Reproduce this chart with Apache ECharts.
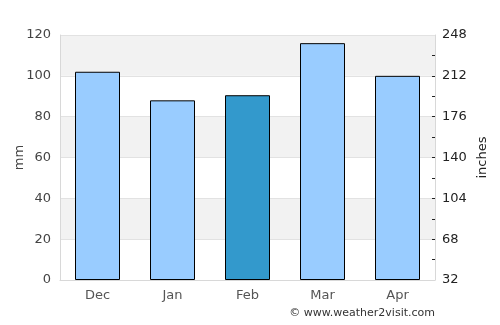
<!DOCTYPE html>
<html>
<head>
<meta charset="utf-8">
<script src="https://cdn.jsdelivr.net/npm/echarts@6/dist/echarts.min.js"></script>
<style>
  html, body { margin: 0; padding: 0; background: #fff; }
  #chart { width: 500px; height: 325px; }
</style>
</head>
<body>
<div id="chart"></div>
<script>
const months = ['Dec', 'Jan', 'Feb', 'Mar', 'Apr'];
const rainMm = [102, 88, 90.5, 116, 100];
const highlightIndex = 2;
const rightLabels = [32, 68, 104, 140, 176, 212, 248];
const rightTicks = [50, 68, 86, 104, 122, 140, 158, 176, 194, 212, 230];

const chart = echarts.init(document.getElementById('chart'), null, { renderer: 'canvas' });

const option = {
  backgroundColor: '#fff',
  animation: false,
  grid: { left: 60, right: 65, top: 35, bottom: 45, containLabel: false, outerBoundsMode: 'none' },
  xAxis: {
    type: 'category',
    data: months,
    axisTick: { show: false },
    axisLine: { lineStyle: { color: '#d8d8d8' } },
    axisLabel: { color: '#555', fontSize: 13, fontFamily: 'DejaVu Sans', margin: 9 }
  },
  yAxis: [
    {
      type: 'value',
      min: 0,
      max: 120,
      interval: 20,
      name: 'mm',
      nameLocation: 'middle',
      nameRotate: 90,
      nameGap: 34,
      nameMoveOverlap: false,
      nameTextStyle: { color: '#444', fontSize: 13, fontFamily: 'DejaVu Sans' },
      axisLine: { show: true, lineStyle: { color: '#d8d8d8' } },
      axisTick: { show: false },
      axisLabel: { color: '#444', fontSize: 13, fontFamily: 'DejaVu Sans', margin: 9 },
      splitLine: { lineStyle: { color: '#e2e2e2' } },
      splitArea: { show: true, areaStyle: { color: ['#ffffff', '#f2f2f2'] } }
    },
    {
      type: 'value',
      position: 'right',
      min: 32,
      max: 248,
      interval: 18,
      name: 'inches',
      nameLocation: 'middle',
      nameRotate: 90,
      nameGap: 41,
      nameMoveOverlap: false,
      nameTextStyle: { color: '#222', fontSize: 13, fontFamily: 'DejaVu Sans' },
      axisLine: { show: true, lineStyle: { color: '#d8d8d8' } },
      axisTick: {
        show: true,
        inside: true,
        length: 3,
        customValues: rightTicks,
        lineStyle: { color: '#222' }
      },
      axisLabel: {
        color: '#222',
        fontSize: 13,
        fontFamily: 'DejaVu Sans',
        margin: 7,
        customValues: rightLabels
      },
      splitLine: { show: false }
    }
  ],
  series: [
    {
      type: 'bar',
      yAxisIndex: 0,
      barWidth: '60%',
      data: rainMm.map((v, i) => ({
        value: v,
        itemStyle: {
          color: i === highlightIndex ? '#3399cc' : '#99ccff',
          borderColor: '#000',
          borderWidth: 1
        }
      }))
    }
  ],
  graphic: [
    {
      type: 'text',
      right: 65,
      top: 308,
      style: {
        text: '\u00a9 www.weather2visit.com',
        fill: '#333',
        font: '11px "DejaVu Sans"'
      }
    }
  ]
};

chart.setOption(option);
</script>
</body>
</html>
